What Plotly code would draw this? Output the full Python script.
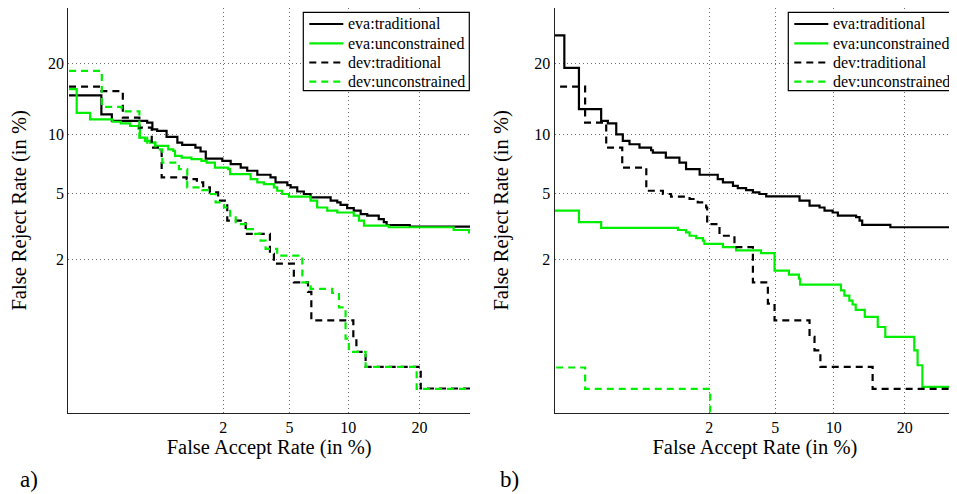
from statistics import NormalDist
import plotly.graph_objects as go

# ---------------- data (all values in %) ----------------
TICK_VALUES = [2, 5, 10, 20]
TICK_TEXT = ["2", "5", "10", "20"]
FAR_RANGE = [0.13, 29.8]
FRR_RANGE = [0.134, 31.0]

SERIES_NAMES = ["eva:traditional", "eva:unconstrained", "dev:traditional", "dev:unconstrained"]
PANEL_LABELS = ["a)", "b)"]
X_TITLE = "False Accept Rate (in %)"
Y_TITLE = "False Reject Rate (in %)"

# panel a)
A_EVA_TRAD_FAR = [0.132, 0.25, 0.305, 0.58, 0.635, 0.69, 0.81, 0.97, 1.05, 1.30, 1.41, 1.53, 1.97, 2.23,
                  2.58, 2.83, 3.26, 3.90, 4.17, 4.86, 5.07, 5.51, 5.98, 6.49, 8.21, 8.85, 9.18, 9.87,
                  10.6, 11.4, 12.2, 13.7, 14.4, 14.8, 18.35, 29.9]
A_EVA_TRAD_FRR = [15.0, 12.4, 11.6, 11.4, 10.6, 10.45, 9.78, 9.19, 8.95, 8.69, 8.31, 7.66, 7.45, 7.17,
                  6.89, 6.63, 6.32, 6.12, 5.75, 5.56, 5.40, 5.13, 4.97, 4.76, 4.56, 4.46, 4.32, 4.14,
                  4.00, 3.82, 3.74, 3.57, 3.42, 3.29, 3.22, 3.19]

A_EVA_UNC_FAR = [0.132, 0.154, 0.201, 0.308, 0.36, 0.427, 0.496, 0.51, 0.557, 0.609, 0.664, 0.833, 0.906,
                 0.933, 1.04, 1.22, 1.43, 1.55, 1.76, 2.15, 2.21, 2.97, 3.26, 3.57, 4.08, 4.26, 4.55,
                 4.96, 6.49, 7.02, 7.90, 8.85, 10.6, 11.2, 11.8, 15.1, 26.4, 29.6, 29.9]
A_EVA_UNC_FRR = [15.9, 12.6, 11.8, 11.5, 11.3, 11.0, 10.7, 9.71, 9.36, 9.19, 8.85, 8.52, 8.36,
                 7.90, 7.75, 7.61, 7.45, 7.31, 6.89, 6.76, 6.36, 5.99, 5.75, 5.63, 5.40, 5.18, 4.97,
                 4.80, 4.56, 4.17, 4.00, 3.90, 3.74, 3.49, 3.26, 3.19, 3.07, 2.97, 2.97]

A_DEV_TRAD_FAR = [0.132, 0.244, 0.374, 0.505, 0.628, 0.745, 1.13, 1.33, 1.47, 1.63, 1.85, 2.12, 2.58,
                  2.77, 3.87, 4.08, 5.28, 6.29, 6.55, 10.55, 10.9, 12.0, 20.2, 29.9]
A_DEV_TRAD_FRR = [16.3, 15.6, 12.0, 10.8, 8.69, 6.12, 5.99, 5.75, 5.40, 5.07, 4.56, 3.49, 3.37,
                  2.91, 2.18, 1.88, 1.41, 1.21, 0.755, 0.533, 0.432, 0.328, 0.217, 0.217]

A_DEV_UNC_FAR = [0.132, 0.252, 0.366, 0.505, 0.58, 0.67, 0.753, 0.995, 1.14, 1.45, 1.63, 1.78, 2.02,
                 2.21, 2.40, 2.83, 3.11, 3.41, 3.65, 4.26, 5.87, 6.49, 8.36, 9.02, 9.70, 10.05, 12.0,
                 19.5, 29.9]
A_DEV_UNC_FRR = [18.8, 13.4, 12.8, 9.71, 9.19, 8.52, 7.31, 6.76, 5.40, 5.22, 4.97, 4.46, 4.17,
                 3.74, 3.33, 3.11, 2.91, 2.64, 2.34, 2.12, 1.41, 1.27, 1.19, 0.94, 0.548, 0.432, 0.328,
                 0.215, 0.215]

# panel b)
B_EVA_TRAD_FAR = [0.13, 0.158, 0.211, 0.323, 0.366, 0.427, 0.481, 0.542, 0.646, 0.789, 0.813, 1.01,
                  1.26, 1.40, 1.73, 2.27, 2.45, 2.83, 3.03, 3.40, 3.73, 4.07, 4.45, 6.76, 7.61, 8.54,
                  9.03, 9.88, 10.45, 12.65, 13.1, 13.45, 17.6, 29.8]
B_EVA_TRAD_FRR = [25.3, 19.3, 13.1, 11.6, 11.3, 10.05, 9.36, 9.02, 8.69, 8.43, 8.21, 7.75,
                  7.31, 6.76, 6.32, 5.99, 5.75, 5.51, 5.36, 5.22, 5.07, 4.97, 4.82, 4.56, 4.27, 4.17,
                  4.00, 3.90, 3.74, 3.66, 3.49, 3.30, 3.19, 3.19]

B_EVA_UNC_FAR = [0.13, 0.211, 0.323, 1.23, 1.40, 1.48, 1.64, 1.82, 1.86, 2.45, 2.96, 4.16, 4.96, 5.94,
                 6.71, 6.81, 10.8, 11.2, 11.8, 12.2, 12.6, 13.8, 15.65, 16.8, 21.7, 22.3, 23.2, 29.7]
B_EVA_UNC_FRR = [4.00, 3.42, 3.16, 3.07, 2.97, 2.83, 2.74, 2.64, 2.52, 2.40, 2.29, 2.20, 1.69, 1.59,
                 1.49, 1.36, 1.24, 1.14, 1.05, 0.985, 0.90, 0.80, 0.673, 0.566, 0.445, 0.338, 0.224, 0.224]

B_DEV_TRAD_FAR = [0.145, 0.238, 0.355, 0.476, 0.727, 0.962, 1.10, 1.48, 1.68, 1.91, 1.94, 2.33, 2.89,
                  3.73, 4.55, 4.96, 7.61, 8.06, 8.62, 14.9, 29.7]
B_DEV_TRAD_FRR = [16.3, 11.4, 8.69, 6.89, 5.18, 4.97, 4.80, 4.66, 4.46, 4.17, 3.33, 2.83, 2.40,
                  1.41, 0.998, 0.755, 0.566, 0.445, 0.328, 0.215, 0.215]

B_DEV_UNC_FAR = [0.134, 0.238, 2.03]
B_DEV_UNC_FRR = [0.324, 0.215, 0.01]

# ---------------- helpers ----------------
ND = NormalDist()


def probit(values):
    return [ND.inv_cdf(v / 100.0) for v in values]


# the page body has an 8px default margin, so the figure is drawn 8px in from the corner
OFF = 8
W, H = 957 - OFF, 494 - OFF


def px(x):
    return (x - OFF) / W


def py(y):
    return 1 - (y - OFF) / H


BLACK = "#000000"
GREEN = "#00ee00"
FONT = "Liberation Serif"
DASH = "7px,5px"
STYLES = [
    dict(color=BLACK, width=2.2, dash="solid"),
    dict(color=GREEN, width=2.2, dash="solid"),
    dict(color=BLACK, width=2.2, dash=DASH),
    dict(color=GREEN, width=2.2, dash=DASH),
]

panels = [
    ("x", "y", [(A_EVA_TRAD_FAR, A_EVA_TRAD_FRR), (A_EVA_UNC_FAR, A_EVA_UNC_FRR),
                (A_DEV_TRAD_FAR, A_DEV_TRAD_FRR), (A_DEV_UNC_FAR, A_DEV_UNC_FRR)]),
    ("x2", "y2", [(B_EVA_TRAD_FAR, B_EVA_TRAD_FRR), (B_EVA_UNC_FAR, B_EVA_UNC_FRR),
                  (B_DEV_TRAD_FAR, B_DEV_TRAD_FRR), (B_DEV_UNC_FAR, B_DEV_UNC_FRR)]),
]

fig = go.Figure()
for xa, ya, series in panels:
    for name, style, (far, frr) in zip(SERIES_NAMES, STYLES, series):
        fig.add_trace(go.Scatter(
            x=probit(far), y=probit(frr), mode="lines", name=name, showlegend=False,
            line=dict(shape="hv", **style), xaxis=xa, yaxis=ya,
        ))

X_DOMAINS = [[px(68.3), px(470)], [px(554.7), min(1.0, px(955))]]
Y_DOMAIN = [py(412.7), min(1.0, py(6.7))]

axis_common = dict(
    tickmode="array", tickvals=probit(TICK_VALUES), ticktext=TICK_TEXT,
    showgrid=True, gridcolor="#6e6e6e", gridwidth=1, griddash="1px,3px",
    showline=True, linecolor="#222222", linewidth=1.3, mirror=False,
    zeroline=False, ticks="", tickfont=dict(family=FONT, size=16, color="black"),
)

layout = dict(
    width=W, height=H, margin=dict(l=0, r=0, t=0, b=0),
    paper_bgcolor="white", plot_bgcolor="white",
    font=dict(family=FONT, color="black"),
)
for i, (xa, ya) in enumerate([("xaxis", "yaxis"), ("xaxis2", "yaxis2")]):
    xname = "x" if i == 0 else "x2"
    yname = "y" if i == 0 else "y2"
    layout[xa] = dict(axis_common, domain=X_DOMAINS[i], range=probit(FAR_RANGE), anchor=yname,
                      title=dict(text=X_TITLE, font=dict(family=FONT, size=20.5), standoff=1))
    layout[ya] = dict(axis_common, domain=Y_DOMAIN, range=probit(FRR_RANGE), anchor=xname,
                      title=dict(text=Y_TITLE, font=dict(family=FONT, size=20.5), standoff=20))

# legend boxes (drawn in paper pixels, matching the reference's boxed legends)
shapes = []
annotations = []
LEGEND_LEFTS = [303.3, 788.3]
LEGEND_W = 166
LEGEND_TOP, LEGEND_BOTTOM = 12.3, 90.7
ROW_Y = [24.0, 43.3, 62.5, 81.7]
for left in LEGEND_LEFTS:
    shapes.append(dict(type="rect", xref="paper", yref="paper", layer="above",
                       x0=px(left), x1=px(left + LEGEND_W), y0=py(LEGEND_BOTTOM), y1=py(LEGEND_TOP),
                       line=dict(color="black", width=1.2), fillcolor="white"))
    for name, style, ry in zip(SERIES_NAMES, STYLES, ROW_Y):
        shapes.append(dict(type="line", xref="paper", yref="paper", layer="above",
                           x0=px(left + 6), x1=px(left + 40), y0=py(ry), y1=py(ry),
                           line=dict(color=style["color"], width=2.2, dash=style["dash"])))
        annotations.append(dict(text=name, x=px(left + 43), y=py(ry), xref="paper", yref="paper",
                                xanchor="left", yanchor="middle", showarrow=False,
                                font=dict(family=FONT, size=16, color="black")))

for label, lx in zip(PANEL_LABELS, [18, 498]):
    annotations.append(dict(text=label, x=px(lx), y=py(479), xref="paper", yref="paper",
                            xanchor="left", yanchor="middle", showarrow=False,
                            font=dict(family=FONT, size=23, color="black")))

layout["shapes"] = shapes
layout["annotations"] = annotations

fig.update_layout(**layout)
fig.write_html("out.html")
